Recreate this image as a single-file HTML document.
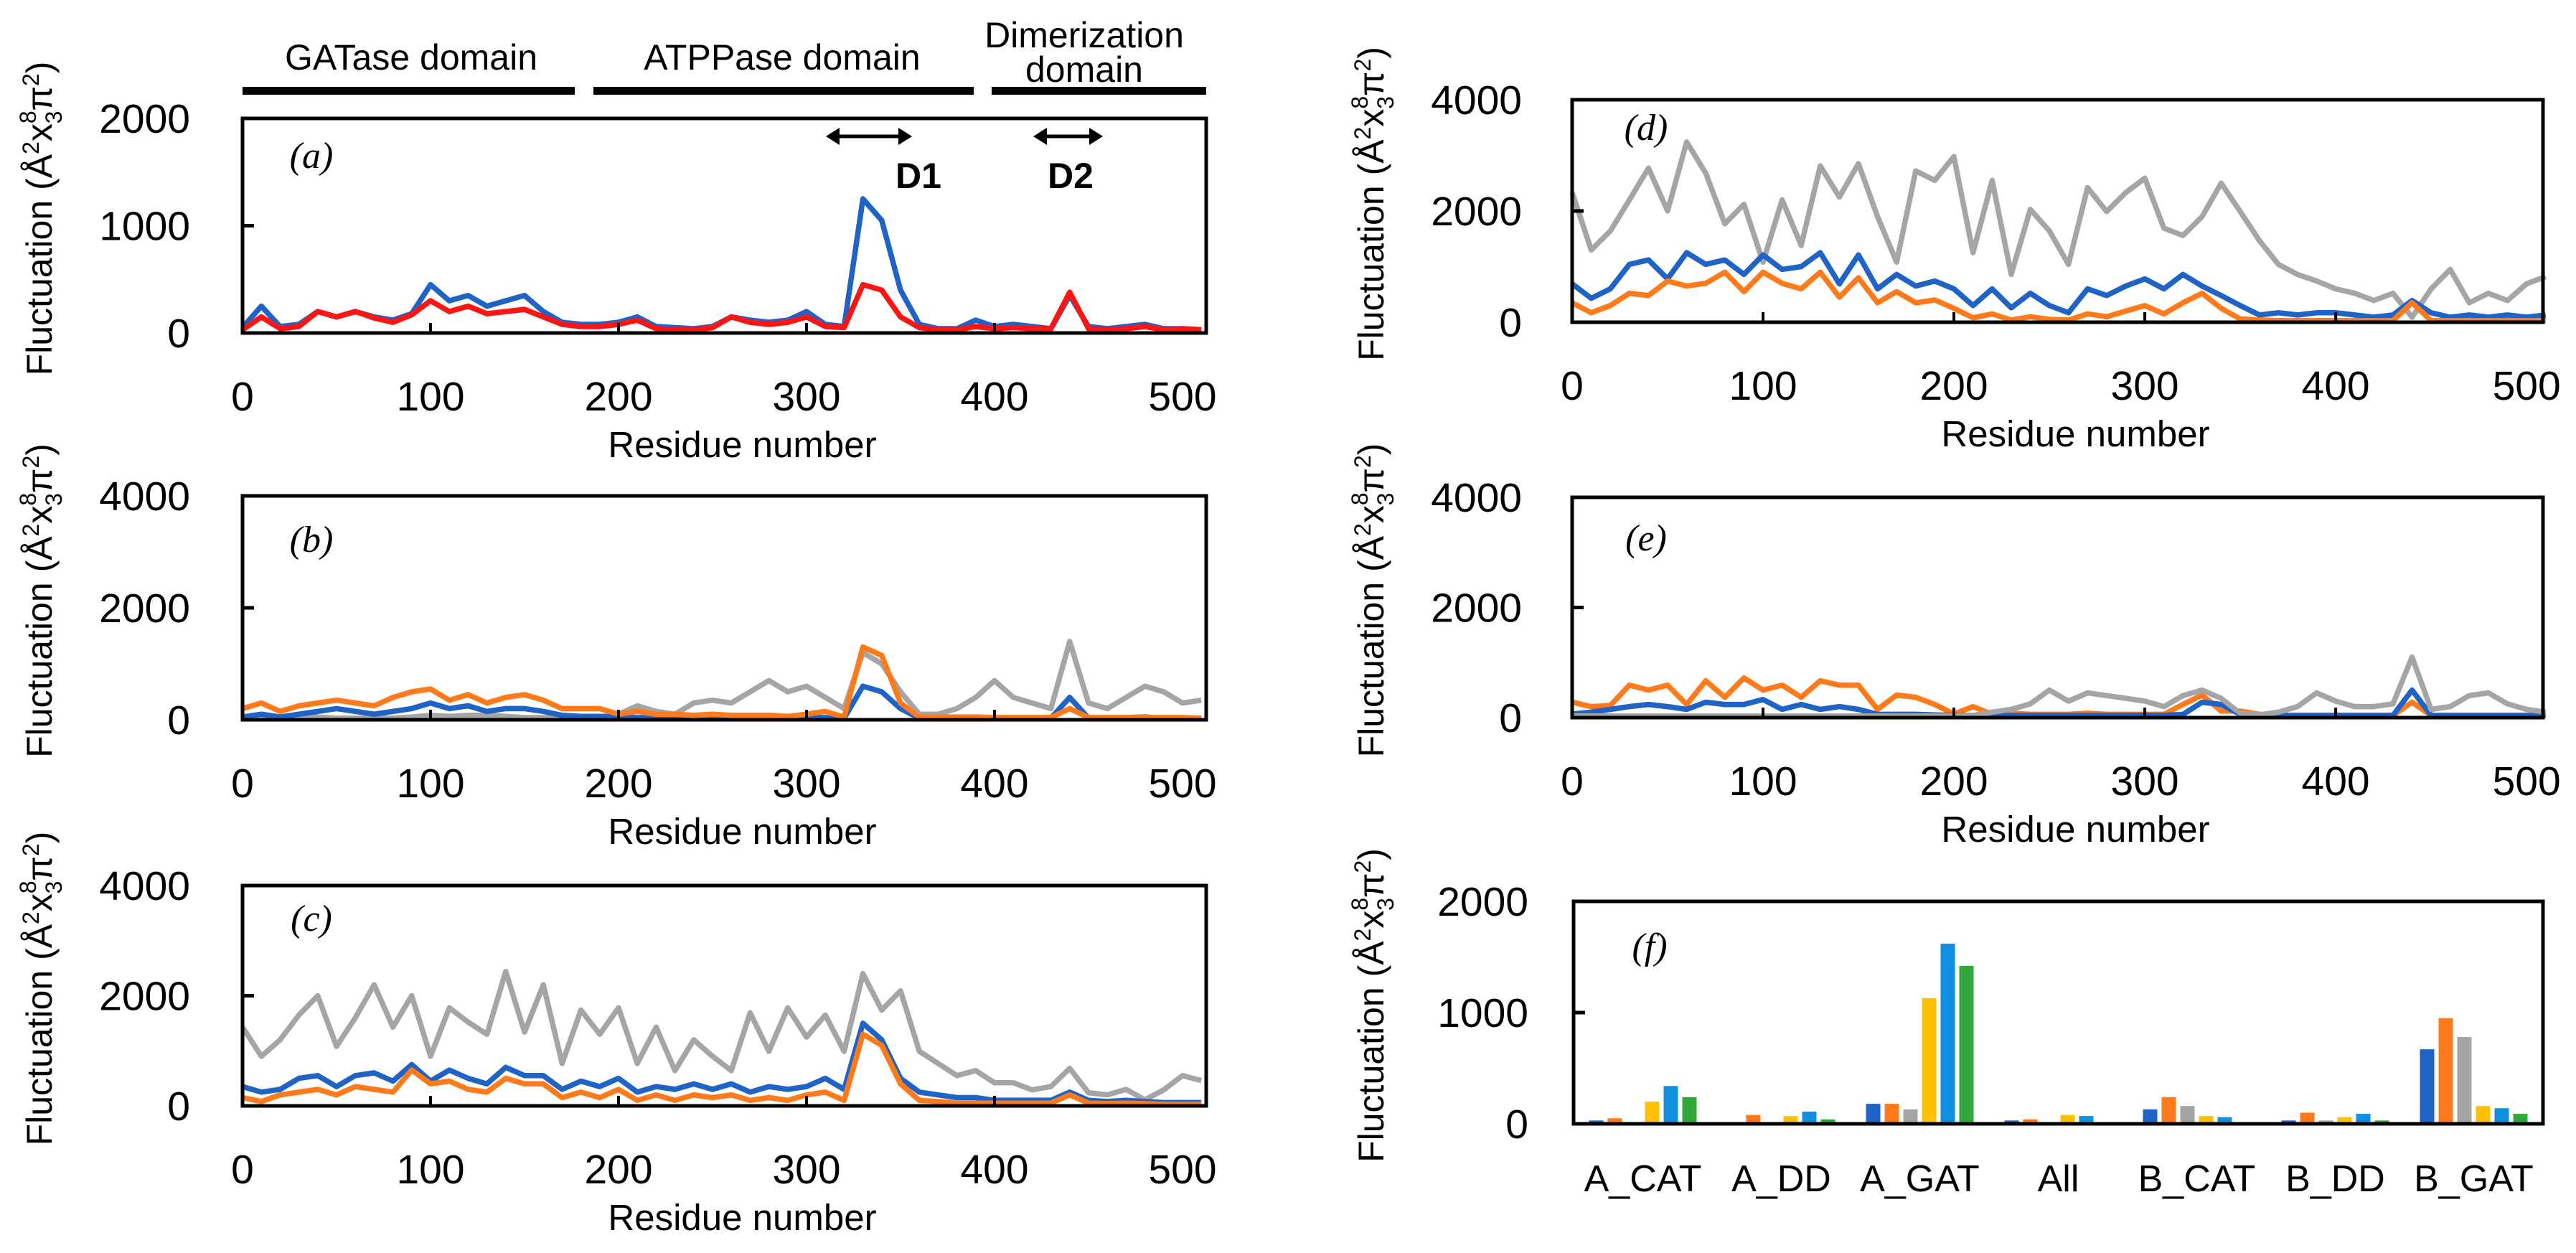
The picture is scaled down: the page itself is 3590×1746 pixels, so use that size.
<!DOCTYPE html>
<html><head><meta charset="utf-8"><title>Fluctuation panels</title>
<style>
html,body{margin:0;padding:0;background:#fff;}
svg{display:block;font-family:"Liberation Sans",sans-serif;}
</style></head>
<body>
<svg id="fig" width="3590" height="1746" viewBox="0 0 3590 1746" xmlns="http://www.w3.org/2000/svg">
<rect x="0" y="0" width="3590" height="1746" fill="#fff"/>
<g id="annot">
  <text x="573" y="97" font-size="50" text-anchor="middle">GATase domain</text>
  <text x="1090" y="97" font-size="50" text-anchor="middle">ATPPase domain</text>
  <text x="1511" y="66" font-size="50" text-anchor="middle">Dimerization</text>
  <text x="1511" y="114" font-size="50" text-anchor="middle">domain</text>
  <rect x="338" y="121" width="463" height="11" fill="#000"/>
  <rect x="827" y="121" width="530" height="11" fill="#000"/>
  <rect x="1382" y="121" width="299" height="11" fill="#000"/>
  <g stroke="#000" stroke-width="5" fill="#000">
    <line x1="1160" y1="190" x2="1262" y2="190"/>
    <polygon points="1151,190 1170,178 1170,202" stroke="none"/>
    <polygon points="1271,190 1252,178 1252,202" stroke="none"/>
  </g>
  <g stroke="#000" stroke-width="5" fill="#000">
    <line x1="1449" y1="190" x2="1528" y2="190"/>
    <polygon points="1440,190 1459,178 1459,202" stroke="none"/>
    <polygon points="1537,190 1518,178 1518,202" stroke="none"/>
  </g>
  <text x="1280" y="262" font-size="50" font-weight="bold" text-anchor="middle">D1</text>
  <text x="1492" y="262" font-size="50" font-weight="bold" text-anchor="middle">D2</text>
</g>
</svg>
<script>
// ---------- data (every 10 residues starting at 0) ----------
const residueStep = 10;
const aBlue = [50,250,60,80,200,150,200,150,120,180,450,300,350,250,300,350,200,100,80,80,100,150,60,50,40,60,150,120,100,120,200,80,60,1250,1050,400,80,40,40,120,60,80,60,40,350,60,40,60,80,40,40,30];
const aRed  = [30,150,40,60,200,150,200,140,100,170,300,200,250,180,200,220,150,80,60,60,80,120,40,30,30,50,150,100,80,100,150,60,50,450,400,150,50,30,30,60,40,50,40,40,380,40,30,40,60,30,40,30];
const bBlue = [50,100,50,100,150,200,150,100,150,200,300,200,250,150,200,200,150,80,60,60,50,40,40,40,40,40,40,40,40,40,40,40,30,600,500,200,30,30,30,30,30,30,30,30,400,30,30,40,50,30,30,30];
const bOrange = [200,300,150,250,300,350,300,250,400,500,550,350,450,300,400,450,350,200,200,200,100,150,100,100,80,100,80,80,80,60,100,150,50,1300,1150,300,50,50,50,50,40,40,40,40,200,40,40,40,40,40,40,30];
const bGray = [50,50,50,50,50,30,30,30,30,50,80,60,80,80,60,40,40,30,40,50,100,250,150,100,300,350,300,500,700,500,600,400,200,1200,1000,500,100,100,200,400,700,400,300,200,1400,300,200,400,600,500,300,350];
const cBlue = [350,250,300,500,550,350,550,600,450,750,450,650,500,400,700,550,550,300,450,350,500,250,350,300,400,300,400,250,350,300,350,500,300,1500,1200,500,250,200,150,150,100,100,100,100,250,100,80,100,80,60,60,60];
const cOrange = [150,80,200,250,300,200,350,300,250,650,400,450,300,250,500,400,400,150,250,150,300,100,200,100,200,150,200,100,150,100,200,250,100,1300,1100,400,100,80,50,50,50,50,50,50,200,50,40,50,40,30,30,30];
const cGray = [1430,900,1200,1650,2000,1080,1600,2200,1430,2000,900,1780,1520,1300,2440,1340,2200,770,1740,1300,1780,770,1430,640,1200,900,640,1690,990,1780,1250,1650,990,2400,1740,2090,990,770,550,640,420,420,290,350,680,240,200,300,110,290,550,460];
const dBlue = [690,430,600,1040,1120,780,1250,1040,1120,860,1210,950,1000,1250,690,1210,600,860,650,740,600,300,600,260,520,300,170,600,480,650,780,600,860,650,480,300,130,170,130,170,170,130,90,130,390,170,90,130,90,130,90,130];
const dOrange = [350,170,300,520,480,740,650,700,900,550,900,700,600,900,450,800,350,550,350,400,250,80,150,40,100,50,40,150,100,200,300,150,350,520,250,60,40,30,30,30,30,30,30,30,350,30,30,30,30,30,30,30];
const dGray = [2330,1300,1640,2200,2770,2000,3240,2680,1770,2120,1080,2200,1380,2810,2250,2850,1900,1080,2720,2550,2980,1250,2550,860,2030,1640,1040,2420,1990,2330,2590,1690,1560,1900,2500,1990,1470,1040,860,740,600,520,390,520,90,600,950,350,520,390,690,820];
const eBlue = [65,100,150,200,240,200,150,280,240,240,330,150,240,150,200,150,60,60,60,50,40,40,40,40,40,40,40,40,40,40,40,40,60,280,240,60,40,40,40,40,40,40,40,40,500,40,40,40,40,40,40,40];
const eOrange = [280,200,220,590,500,590,240,670,370,720,500,590,370,670,590,590,150,410,370,240,65,200,60,80,60,60,60,80,60,60,60,60,240,410,120,120,60,40,40,40,40,40,40,40,280,40,40,40,40,40,40,40];
const eGray = [30,30,30,30,30,30,30,30,30,30,30,30,30,30,30,30,30,30,30,30,30,40,100,150,250,500,300,450,400,350,300,200,400,500,350,80,50,100,200,450,300,200,200,250,1100,150,200,400,450,250,150,100];
const barCategories = ["A_CAT","A_DD","A_GAT","All","B_CAT","B_DD","B_GAT"];
const fBlue = [30,15,180,30,130,30,670];
const fOrange = [50,80,180,40,240,100,950];
const fGray = [0,10,130,0,160,30,780];
const fYellow = [200,70,1130,80,70,60,160];
const fLightBlue = [340,110,1620,70,60,90,140];
const fGreen = [240,40,1420,15,10,30,90];
const xTickLabels = ["0","100","200","300","400","500"];
const yTicks2000 = ["0","1000","2000"];
const yTicks4000 = ["0","2000","4000"];

// ---------- drawing ----------
const NS = "http://www.w3.org/2000/svg";
const svg = document.getElementById("fig");
function mk(tag, attrs, parent) {
  const e = document.createElementNS(NS, tag);
  for (const k in attrs) e.setAttribute(k, attrs[k]);
  (parent || svg).appendChild(e);
  return e;
}
const panels = [
  {id:"a", left:338, right:1681, top:165, bottom:464, xmax:512.6, ymax:2000, yt:yTicks2000, series:[[aBlue,"#1f63c6"],[aRed,"#ff1414"]], lx:96, ly:52, tickX:265, titleX:72},
  {id:"b", left:338, right:1681, top:691, bottom:1003, xmax:512.6, ymax:4000, yt:yTicks4000, series:[[bGray,"#a5a5a5"],[bBlue,"#1f63c6"],[bOrange,"#ff7a1a"]], lx:96, ly:61, tickX:265, titleX:72},
  {id:"c", left:338, right:1681, top:1234, bottom:1541, xmax:512.6, ymax:4000, yt:yTicks4000, series:[[cGray,"#a5a5a5"],[cBlue,"#1f63c6"],[cOrange,"#ff7a1a"]], lx:96, ly:46, tickX:265, titleX:72},
  {id:"d", left:2191, right:3544, top:139, bottom:449, xmax:508.6, ymax:4000, yt:yTicks4000, series:[[dGray,"#a5a5a5"],[dBlue,"#1f63c6"],[dOrange,"#ff7a1a"]], lx:103, ly:39, tickX:2121, titleX:1928},
  {id:"e", left:2191, right:3544, top:693, bottom:1000, xmax:508.6, ymax:4000, yt:yTicks4000, series:[[eOrange,"#ff7a1a"],[eBlue,"#1f63c6"],[eGray,"#a5a5a5"]], lx:103, ly:57, tickX:2121, titleX:1928}
];
function yTitle(g, x, cy) {
  const t = mk("text", {x:0, y:0, "font-size":50, "text-anchor":"middle", transform:"translate("+x+","+cy+") rotate(-90)"}, g);
  
  
  t.innerHTML = 'Fluctuation (Å<tspan font-size="32" dy="-18">2</tspan><tspan dy="18">x</tspan><tspan font-size="32" dy="-22">8</tspan><tspan font-size="32" dx="-18" dy="36">3</tspan><tspan dy="-14">π</tspan><tspan font-size="32" dy="-18">2</tspan><tspan dy="18">)</tspan>';
}
panels.forEach(p => {
  const g = mk("g", {});
  
  
  const xs = v => p.left + v / p.xmax * (p.right - p.left);
  const ys = v => p.bottom - v / p.ymax * (p.bottom - p.top);
  p.series.forEach(s => {
    const arr = s[0];
    const d = arr.map((v, i) => (i ? "L" : "M") + xs(i * residueStep).toFixed(1) + "," + ys(v).toFixed(1)).join(" ");
    const path = mk("path", {d:d, fill:"none", stroke:s[1], "stroke-width":7.5, "stroke-linejoin":"round"}, g);
    
    
  });
  const fr = mk("rect", {x:p.left, y:p.top, width:p.right-p.left, height:p.bottom-p.top, fill:"none", stroke:"#000", "stroke-width":5}, g);
  
  
  p.yt.forEach((lab, i) => {
    const v = i * p.ymax / 2;
    const yy = ys(v);
    if (i === 1) {
      const tk = mk("line", {x1:p.left, x2:p.left+16, y1:yy, y2:yy, stroke:"#000", "stroke-width":5}, g);
      
      
    }
    const t = mk("text", {x:p.tickX, y:yy+20, "font-size":57, "text-anchor":"end"}, g);
    
    
    t.textContent = lab;
  });
  xTickLabels.forEach((lab, i) => {
    const xx = xs(i * 100);
    if (i > 0 && i < 5) {
      const tk = mk("line", {x1:xx, x2:xx, y1:p.bottom, y2:p.bottom-14, stroke:"#000", "stroke-width":4}, g);
      
      
    }
    const t = mk("text", {x:xx, y:p.bottom+108, "font-size":57, "text-anchor":"middle"}, g);
    
    
    t.textContent = lab;
  });
  const xt = mk("text", {x:(p.left+p.right)/2 + 25, y:p.bottom+173, "font-size":51, "text-anchor":"middle"}, g);
  
  
  xt.textContent = "Residue number";
  const pl = mk("text", {x:p.left+p.lx, y:p.top+p.ly+17, "font-size":52, "font-style":"italic", "font-family":"Liberation Serif, serif", "text-anchor":"middle"}, g);
  
  
  pl.textContent = "(" + p.id + ")";
  yTitle(g, p.titleX, (p.top + p.bottom) / 2 - 10);
});

// bar panel f
(function(){
  const left = 2193, right = 3544, top = 1256, bottom = 1566, ymax = 2000;
  const g = mk("g", {});
  
  
  const ys = v => bottom - v / ymax * (bottom - top);
  const catW = (right - left) / barCategories.length;
  const series = [[fBlue,"#1f63c6"],[fOrange,"#ff7a1a"],[fGray,"#a5a5a5"],[fYellow,"#ffc000"],[fLightBlue,"#118fe0"],[fGreen,"#30a83a"]];
  const bw = 20, step = 26;
  barCategories.forEach((cat, ci) => {
    const cx = left + catW * (ci + 0.5);
    series.forEach((s, si) => {
      const v = s[0][ci];
      const x = cx + (si - 2.5) * step - bw / 2;
      const r = mk("rect", {x:x, y:ys(v), width:bw, height:bottom - ys(v), fill:s[1]}, g);
      
      
    });
    const t = mk("text", {x:cx, y:1660, "font-size":52, "text-anchor":"middle"}, g);
    
    
    t.textContent = cat;
  });
  const fr = mk("rect", {x:left, y:top, width:right-left, height:bottom-top, fill:"none", stroke:"#000", "stroke-width":5}, g);
  
  
  yTicks2000.forEach((lab, i) => {
    const yy = ys(i * 1000);
    if (i === 1) {
      const tk = mk("line", {x1:left, x2:left+16, y1:yy, y2:yy, stroke:"#000", "stroke-width":5}, g);
      
      
    }
    const t = mk("text", {x:2130, y:yy+20, "font-size":57, "text-anchor":"end"}, g);
    
    
    t.textContent = lab;
  });
  const pl = mk("text", {x:2299, y:top+80, "font-size":52, "font-style":"italic", "font-family":"Liberation Serif, serif", "text-anchor":"middle"}, g);
  
  
  pl.textContent = "(f)";
  yTitle(g, 1928, (top + bottom) / 2 - 10);
})();
</script>
</body></html>
